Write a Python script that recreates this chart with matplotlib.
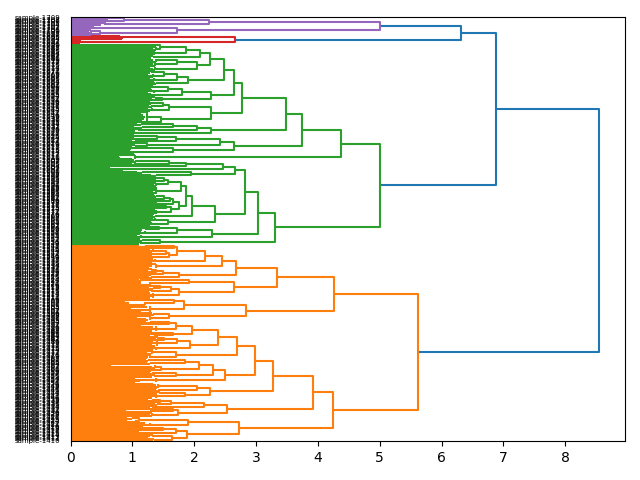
import matplotlib
matplotlib.use("Agg")
import matplotlib.pyplot as plt
from matplotlib.collections import LineCollection

# Merge tree of the samples, listed from the top of the plot downwards.
# A node is (merge distance, upper child, lower child); a plain list is a tight
# group of samples, holding the distance at which each sample joins that group.

purple_cluster = (5.00,
    (2.24, (0.86, [.60, .60], [.60, .58]), [.55, .50]),
    (1.72, [.34, .36, .33], (0.48, [.33, .30], [.34, .33])))

red_cluster = (2.66, [.80, .84, .84], [.15, .15, .15])

green_a = (2.64,
    (2.48,
        (2.25,
            (2.09, (1.86, (1.45, [1.39, 1.39], [1.38, 1.34, 1.38]), [1.37, 1.33, 1.36]), [1.34, 1.30]),
            (2.04, (1.72, [1.30, 1.34, 1.38], [1.27, 1.33, 1.37]), [1.29, 1.34, 1.37])),
        (1.90, (1.72, (1.52, [1.31, 1.28], [1.26, 1.34, 1.33]), [1.28, 1.33, 1.35]), [1.36, 1.38])),
    (2.27,
        (1.80, (1.58, [1.33, 1.36, 1.30], [1.32, 1.35, 1.26]), [1.30, 1.35]),
        (1.48, [1.37, 1.32], [1.33, 1.29])))

green_b = (2.27,
    (1.59, (1.49, [1.33, 1.30], [1.27, 1.31]), [1.25, 1.31, 1.28]),
    (1.47, [1.24, 1.14, 1.17, 1.21, 1.03, 1.19, 1.16], [0.0]))

green_c = (2.28,
    (2.04, (1.66, [1.08, 1.14], [1.03, 1.16]), [1.10, 1.05]),
    [1.03, 1.03])

green_d = (2.64,
    (2.41,
        (1.70, (1.40, [1.02, 1.08], [1.03, 1.06]), [1.00, 1.04]),
        (1.23, [0.0], [1.04, 1.00])),
    (1.66, [1.03, 0.98], [0.96, 1.07, 1.02]))

green_e = (2.66,
    (2.46, (1.87, (1.60, [1.02, 1.06], [1.00, 1.04]), [0.0]), [0.64, 1.02, 0.85]),
    (1.95, [1.07, 1.16], [1.30, 1.39]))

green_f = (2.33,
    (1.96,
        (1.86,
            (1.79, (1.57, (1.52, [1.37, 1.39], [1.36, 1.39]), [1.39, 1.35, 1.37]),
                   [1.39, 1.37, 1.38, 1.33, 1.39, 1.35]),
            (1.76,
                (1.66, (1.61, (1.52, [1.37, 1.39], [0.0]), [1.33, 1.39, 1.36]), [0.0]),
                (1.63, (1.54, [0.0], [1.39, 1.37]), [1.33, 1.37, 1.39, 1.35]))),
        [1.34, 1.37]),
    (1.58, [1.33, 1.37, 1.30], [1.32, 1.35, 1.29]))

green_g = (2.29, (1.72, (1.43, [0.0], [1.22, 1.15]), [1.14, 1.20, 1.12]), [1.08, 1.14, 1.12])
green_h = (1.45, [1.12, 1.16], [1.14, 1.10])

green_cluster = (5.01,
    (4.38,
        (3.75,
            (3.48, (2.78, green_a, green_b), green_c),
            green_d),
        [1.04, 0.78, 0.80, 1.00]),
    (3.30, (3.03, (2.82, green_e, green_f), green_g), green_h))

orange_a = (3.34,
    (2.67,
        (2.45,
            (2.18,
                (1.72, (1.68, [1.10, 1.22], [0.0]),
                       (1.60, (1.55, [1.29, 1.34, 1.31], [1.37, 1.32]), [1.37, 1.34])),
                [1.33, 1.37, 1.32]),
            [1.38, 1.30, 1.32, 1.27]),
        (1.76, (1.49, (1.38, [1.32, 1.25], [0.0]), [1.37, 1.30]), [1.27, 1.31])),
    (2.64,
        (1.91, [1.10, 1.14], [0.65, 1.14, 1.28]),
        (1.76, (1.62, (1.44, [0.0], [1.27, 1.34]), [1.32, 1.27]), [1.29, 1.34, 1.32, 1.28])))

orange_b = (2.83,
    (1.84, (1.67, [1.00, 1.17], [0.88, 0.95, 1.20]), [1.20, 1.24, 0.98, 1.29, 1.14]),
    (1.60, [1.32, 1.35], [1.29, 1.08, 1.22, 1.26]))

orange_c = (2.69,
    (2.38,
        (1.96,
            (1.71, (1.60, [1.22, 1.29], [0.0]), [1.14, 1.33, 1.39, 1.26, 1.32]),
            (1.65, [0.0], [1.36, 1.29])),
        (1.94,
            (1.72, (1.52, [1.42, 1.39], [0.0]), [1.34, 1.40, 1.32, 1.36]),
            [1.30, 1.38, 1.34])),
    (1.70, (1.32, [0.0], [1.24, 1.30]), [1.29, 1.26, 1.24]))

orange_d = (2.50,
    (2.30,
        (2.08,
            (1.85, [1.22, 1.26], [1.24, 1.29]),
            (1.47, [0.65, 1.32, 1.36], [1.34, 1.30])),
        (1.71, [1.29, 1.34], [1.37, 1.32])),
    [1.04, 1.39, 1.12, 1.04])

orange_e = (2.25,
    (2.04, [1.34, 1.39, 1.42, 1.40], [1.38, 1.43]),
    (1.85, [1.44, 1.40], [1.33, 1.39, 1.31]))

orange_f = (2.53,
    (2.16, (1.63, (1.44, [1.26, 1.34], [0.0]), [1.36, 1.40]), [1.33, 1.28]),
    (1.74, (1.65, [0.0], [0.90, 1.28]), [1.31, 1.28, 1.31]))

orange_g = (2.73,
    (1.90, (1.11, [0.92, 1.00], [0.92, 1.05]), [1.21, 1.28, 1.18]),
    (1.88, (1.70, (1.49, [0.0], [1.23, 1.27]), [1.10, 1.28]), (1.64, [1.33, 1.28, 1.25], [1.35, 1.33])))

orange_cluster = (5.62,
    (4.26, orange_a, orange_b),
    (4.25,
        (3.92, (3.28, (2.98, orange_c, orange_d), orange_e), orange_f),
        orange_g))

top_merges = [6.31, 6.88, 8.54]
leaf_ids = list(range(1709, 1409, -1))
leaf_labels = [f"sample-{i}" for i in leaf_ids]
x_ticks = [0, 1, 2, 3, 4, 5, 6, 7, 8]

BLUE = "#1f77b4"
ORANGE = "#ff7f0e"
GREEN = "#2ca02c"
RED = "#d62728"
PURPLE = "#9467bd"
SPACING = 10

segments = {c: [] for c in (BLUE, ORANGE, GREEN, RED, PURPLE)}
next_leaf = 0


def place(node, colour):
    """Lay a subtree out from the top down; return its y position and distance."""
    global next_leaf
    if isinstance(node, list):
        ys = []
        for length in node:
            y = SPACING * next_leaf + SPACING / 2
            next_leaf += 1
            ys.append(y)
            segments[colour].append([(0, y), (length, y)])
        top = max(node)
        if len(ys) > 1:
            segments[colour].append([(top, ys[0]), (top, ys[-1])])
        return sum(ys) / len(ys), top
    height, upper, lower = node
    y1, x1 = place(upper, colour)
    y2, x2 = place(lower, colour)
    segments[colour].append([(x1, y1), (height, y1), (height, y2), (x2, y2)])
    return (y1 + y2) / 2, height


def join(height, first, second):
    """Draw a blue merge above two already placed clusters."""
    (y1, x1), (y2, x2) = first, second
    segments[BLUE].append([(x1, y1), (height, y1), (height, y2), (x2, y2)])
    return (y1 + y2) / 2, height


purple = place(purple_cluster, PURPLE)
red = place(red_cluster, RED)
merged = join(top_merges[0], purple, red)
green = place(green_cluster, GREEN)
merged = join(top_merges[1], merged, green)
orange = place(orange_cluster, ORANGE)
join(top_merges[2], merged, orange)

fig = plt.figure(figsize=(6.4, 4.8), dpi=100)
fig.subplots_adjust(left=70.5 / 640, right=625 / 640, top=1 - 17 / 480, bottom=1 - 441 / 480)
ax = fig.add_subplot(111)

for colour, segs in segments.items():
    ax.add_collection(LineCollection(segs, colors=colour, linewidths=1.5))

ax.set_xlim(0, top_merges[2] * 1.05)
ax.set_ylim(SPACING * next_leaf, 0)
ax.set_xticks(x_ticks)
ax.set_yticks([SPACING * i + SPACING / 2 for i in range(next_leaf)])
ax.set_yticklabels(leaf_labels, fontsize=5)
ax.tick_params(axis="y", length=0, pad=7.5)

fig.savefig("out.png", dpi=100)
